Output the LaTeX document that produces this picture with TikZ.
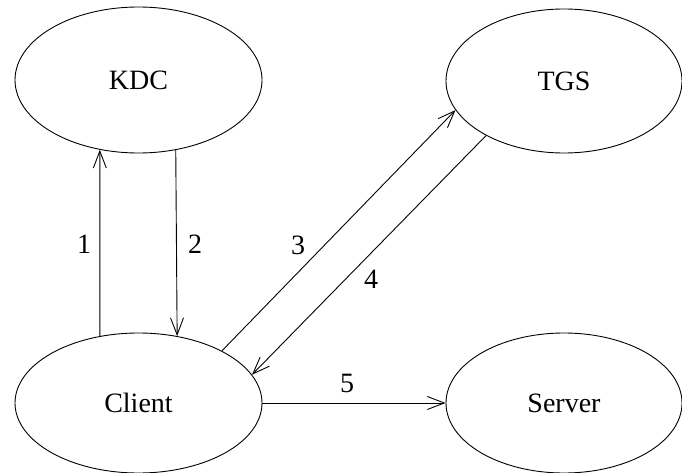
\documentclass[tikz,border=0pt]{standalone}
\usepackage{fontspec}
\setmainfont{Liberation Serif}
\usetikzlibrary{shapes.geometric,arrows.meta}
\begin{document}
\begin{tikzpicture}[x=1pt,y=-1pt,
  ent/.style={draw,ellipse,line width=0.9pt,inner sep=0pt,font=\fontsize{28}{30}\selectfont},
  lft/.style={ent,minimum width=247pt},
  rgt/.style={ent,minimum width=236pt},
  conn/.style={line width=0.9pt,-{Straight Barb[length=17pt,width=13pt,line width=0.9pt]}},
  lbl/.style={font=\fontsize{28}{30}\selectfont,inner sep=0pt}]
\useasboundingbox (0,0) rectangle (682,473);
\node[lft,minimum height=146pt] (kdc) at (138.5,80) {KDC};
\node[lft,minimum height=140pt] (client) at (138.5,403) {Client};
\node[rgt,minimum height=144pt] (tgs) at (564,81) {TGS};
\node[rgt,minimum height=140pt] (server) at (564,403) {Server};
\draw[conn] (client.120.1) -- (kdc.241);
\draw[conn] (kdc.298.3) -- (client.60.7);
\draw[conn] (client.32) -- (tgs.195.3);
\draw[conn] (tgs.215) -- (client.14.7);
\draw[conn] (client.east) -- (server.west);
\node[lbl] (l1) at (84,244) {1};
\node[lbl] (l2) at (195,244) {2};
\node[lbl] (l3) at (298,245) {3};
\node[lbl] (l4) at (371,279) {4};
\node[lbl] (l5) at (347,383) {5};
\end{tikzpicture}
\end{document}
